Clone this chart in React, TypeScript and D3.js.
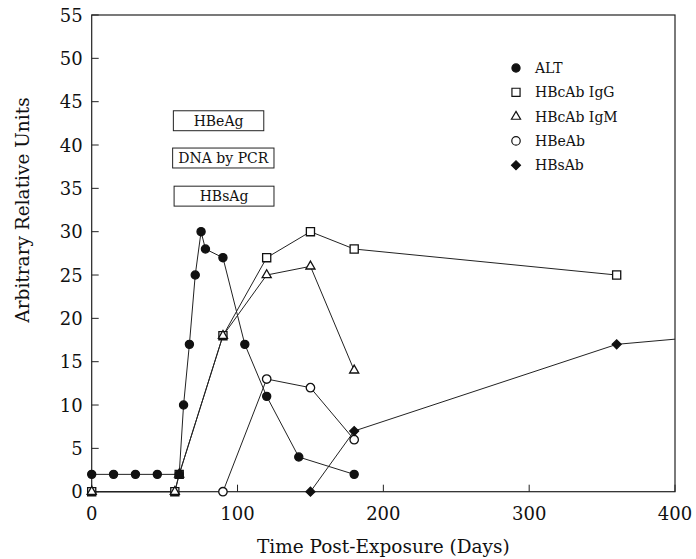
import * as d3 from "d3";

// ALT and antibody / antigen time courses (days, arbitrary units)
const altDays = [0, 15, 30, 45, 60, 63, 67, 71, 75, 78, 90, 105, 120, 142, 180];
const altValues = [2, 2, 2, 2, 2, 10, 17, 25, 30, 28, 27, 17, 11, 4, 2];

const iggDays = [0, 57, 60, 90, 120, 150, 180, 360];
const iggValues = [0, 0, 2, 18, 27, 30, 28, 25];

const igmDays = [0, 57, 60, 90, 120, 150, 180];
const igmValues = [0, 0, 2, 18, 25, 26, 14];

const hbeabDays = [90, 120, 150, 180];
const hbeabValues = [0, 13, 12, 6];

const hbsabDays = [150, 180, 360, 480];
const hbsabValues = [0, 7, 17, 18.8];

// marker boxes (start day, end day, level)
const boxLabels = ["HBeAg", "DNA by PCR", "HBsAg"];
const boxStart = [56, 55.5, 56.5];
const boxEnd = [118, 125, 125];
const boxLevel = [42.8, 38.5, 34.1];

const legendLabels = ["ALT", "HBcAb IgG", "HBcAb IgM", "HBeAb", "HBsAb"];

const xTicks = [0, 100, 200, 300, 400];
const yTicks = d3.range(0, 56, 5);

const W = 696;
const H = 559;
const FONT = "'DejaVu Serif', serif";

const x = d3.scaleLinear().domain([0, 400]).range([91.7, 675]);
const y = d3.scaleLinear().domain([0, 55]).range([491.7, 15]);

const line = d3
  .line<[number, number]>()
  .x((d) => x(d[0]))
  .y((d) => y(d[1]));

const circle = d3.symbol(d3.symbolCircle, 52)();
const openCircle = d3.symbol(d3.symbolCircle, 56)();
const square = d3.symbol(d3.symbolSquare, 66)();
const triangle = d3.symbol(d3.symbolTriangle, 36)();
const diamond = d3.symbol(d3.symbolSquare, 40)();

type Series = {
  name: string;
  days: number[];
  values: number[];
  path: string | null;
  fill: string;
  rotate?: number;
};

const series: Series[] = [
  { name: "HBcAb IgG", days: iggDays, values: iggValues, path: square, fill: "#fff" },
  { name: "HBcAb IgM", days: igmDays, values: igmValues, path: triangle, fill: "#fff" },
  { name: "HBeAb", days: hbeabDays, values: hbeabValues, path: openCircle, fill: "#fff" },
  { name: "HBsAb", days: hbsabDays, values: hbsabValues, path: diamond, fill: "#111", rotate: 45 },
  { name: "ALT", days: altDays, values: altValues, path: circle, fill: "#111" },
];

const legendOrder = ["ALT", "HBcAb IgG", "HBcAb IgM", "HBeAb", "HBsAb"];

export default function App() {
  const [x0, x1] = x.range();
  const [y0, y1] = y.range();
  return (
    <svg width={W} height={H} style={{ position: "absolute", left: 0, top: 0, background: "#fff" }}>
      <defs>
        <clipPath id="plot">
          <rect x={0} y={0} width={x1} height={H} />
        </clipPath>
      </defs>

      {/* frame */}
      <rect x={x0} y={y1} width={x1 - x0} height={y0 - y1} fill="none" stroke="#222" strokeWidth={1.2} />

      {yTicks.map((t) => (
        <g key={"y" + t}>
          <line x1={x0} x2={x0 + 7} y1={y(t)} y2={y(t)} stroke="#222" strokeWidth={1} />
          <text x={x0 - 9} y={y(t) + 6.5} textAnchor="end" fontFamily={FONT} fontSize={18} fill="#111">
            {t}
          </text>
        </g>
      ))}
      {xTicks.map((t) => (
        <g key={"x" + t}>
          <line x1={x(t)} x2={x(t)} y1={y0} y2={y0 - 7} stroke="#222" strokeWidth={1} />
          <text x={x(t)} y={y0 + 28} textAnchor="middle" fontFamily={FONT} fontSize={18} fill="#111">
            {t}
          </text>
        </g>
      ))}

      <text x={(x0 + x1) / 2} y={553} textAnchor="middle" fontFamily={FONT} fontSize={18.5} fill="#111">
        Time Post-Exposure (Days)
      </text>
      <text
        transform={`translate(29,210) rotate(-90)`}
        textAnchor="middle"
        fontFamily={FONT}
        fontSize={18.5}
        fill="#111"
      >
        Arbitrary Relative Units
      </text>

      {/* boxes */}
      {boxLabels.map((b, i) => (
        <g key={b}>
          <rect
            x={x(boxStart[i])}
            y={y(boxLevel[i] + 1.15)}
            width={x(boxEnd[i]) - x(boxStart[i])}
            height={y(boxLevel[i] - 1.15) - y(boxLevel[i] + 1.15)}
            fill="#fff"
            stroke="#222"
            strokeWidth={1}
          />
          <text
            x={(x(boxStart[i]) + x(boxEnd[i])) / 2}
            y={y(boxLevel[i]) + 5}
            textAnchor="middle"
            fontFamily={FONT}
            fontSize={14}
            fill="#111"
          >
            {b}
          </text>
        </g>
      ))}

      {/* lines */}
      <g clipPath="url(#plot)">
        {series.map((s) => (
          <path
            key={s.name}
            d={line(s.days.map((d, i) => [d, s.values[i]] as [number, number])) ?? ""}
            fill="none"
            stroke="#222"
            strokeWidth={1}
          />
        ))}
      </g>

      {/* markers */}
      {series.map((s) => (
        <g key={s.name + "-m"}>
          {s.days
            .map((d, i) => [d, s.values[i]])
            .filter((p) => p[0] <= 400)
            .map((p, i) => (
              <path
                key={i}
                d={s.path ?? ""}
                transform={`translate(${x(p[0])},${y(p[1])})${s.rotate ? ` rotate(${s.rotate})` : ""}`}
                fill={s.fill}
                stroke="#111"
                strokeWidth={1.3}
              />
            ))}
        </g>
      ))}

      {/* legend */}
      {legendOrder.map((name, i) => {
        const s = series.find((q) => q.name === name)!;
        const ly = 68 + i * 24.3;
        return (
          <g key={"leg" + name}>
            <path
              d={s.path ?? ""}
              transform={`translate(516,${ly})${s.rotate ? ` rotate(${s.rotate})` : ""}`}
              fill={s.fill}
              stroke="#111"
              strokeWidth={1.2}
            />
            <text x={535} y={ly + 5} fontFamily={FONT} fontSize={14} fill="#111">
              {legendLabels[i]}
            </text>
          </g>
        );
      })}
    </svg>
  );
}
